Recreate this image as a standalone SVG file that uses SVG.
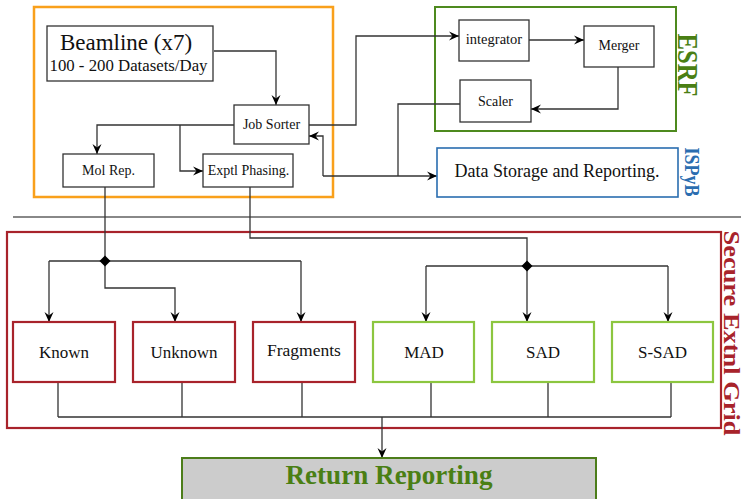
<svg xmlns="http://www.w3.org/2000/svg" width="746" height="499" viewBox="0 0 746 499">
<style>
  text { font-family: "Liberation Serif", "Times New Roman", serif; fill: #111; }
  .node rect { fill: #fff; stroke: #333; stroke-width: 1.3; }
  .red rect { stroke: #a8232b; stroke-width: 2.2; }
  .lg rect { stroke: #8cc63f; stroke-width: 2.2; }
  .s14 { font-size: 14px; }
  .s17 { font-size: 17px; }
  .conn path { fill: none; stroke: #333; stroke-width: 1.3; }
  .arr { marker-end: url(#stealth); }
  .lbl { font-weight: bold; }
</style>
<defs>
  <marker id="stealth" markerUnits="userSpaceOnUse" markerWidth="12" markerHeight="12" viewBox="-11 -6 12 12" refX="0" refY="0" orient="auto">
    <path d="M0,0 L-10,-4.5 L-6.5,0 L-10,4.5 Z" fill="#000"/>
  </marker>
</defs>
<rect width="746" height="499" fill="#fff"/>

<!-- containers -->
<g id="orange-group">
  <rect x="34" y="7" width="299" height="190" fill="none" stroke="#f9a01b" stroke-width="2.5"/>
</g>
<g id="esrf-group">
  <rect x="435" y="7" width="241" height="124" fill="none" stroke="#4e8a1e" stroke-width="2"/>
  <text class="lbl" transform="translate(678,65) rotate(90)" text-anchor="middle" font-size="30" textLength="63" lengthAdjust="spacingAndGlyphs" style="fill:#4a7f14">ESRF</text>
</g>
<g id="ispyb-group">
  <text class="lbl" transform="translate(685,172) rotate(90)" text-anchor="middle" font-size="20" textLength="49" lengthAdjust="spacingAndGlyphs" style="fill:#2a6db0">ISPyB</text>
</g>
<line x1="13" y1="217" x2="741" y2="217" stroke="#888" stroke-width="2"/>
<g id="grid-group">
  <rect x="7" y="232" width="714" height="196" fill="none" stroke="#a8232b" stroke-width="2.2"/>
  <text class="lbl" transform="translate(724,333) rotate(90)" text-anchor="middle" font-size="24" textLength="205" lengthAdjust="spacingAndGlyphs" style="fill:#a8232b">Secure Extnl Grid</text>
</g>

<!-- connectors -->
<g id="connectors" class="conn">
  <path class="arr" d="M214,51 H276 V105"/>
  <path class="arr" d="M234,125 H97 V154"/>
  <path class="arr" d="M180,125 V171 H203"/>
  <path class="arr" d="M309,125 H356 V36 H459"/>
  <path class="arr" d="M529,40 H584"/>
  <path class="arr" d="M618,67 V109 H531"/>
  <path d="M460,104 H398 V176"/>
  <path class="arr" d="M323,176 H437"/>
  <path class="arr" d="M323,176 V136 H309"/>
  <path d="M105,187 V261"/>
  <path d="M49,261 H301"/>
  <path class="arr" d="M49,261 V322"/>
  <path class="arr" d="M301,261 V322"/>
  <path class="arr" d="M105,261 V288 H175 V322"/>
  <path d="M250,187 V238 H527 V266"/>
  <path d="M426,266 H668"/>
  <path class="arr" d="M426,266 V322"/>
  <path class="arr" d="M527,266 V322"/>
  <path class="arr" d="M668,266 V322"/>
  <path d="M58,382 V417 M182,382 V417 M302,382 V417 M431,382 V417 M548,382 V417 M671,382 V417 M58,417 H671"/>
  <path class="arr" d="M382,417 V458"/>
  <polygon points="105,255.5 110.5,261 105,266.5 99.5,261" fill="#000"/>
  <polygon points="527,260.5 532.5,266 527,271.5 521.5,266" fill="#000"/>
</g>

<!-- nodes -->
<g id="beamline" class="node">
  <rect x="47" y="26" width="166" height="55"/>
  <text x="126" y="50" text-anchor="middle" font-size="23">Beamline (x7)</text>
  <text x="128.5" y="71" text-anchor="middle" font-size="16.8">100 - 200 Datasets/Day</text>
</g>
<g id="job-sorter" class="node">
  <rect x="234" y="105" width="75" height="39"/>
  <text class="s14" x="271.5" y="129" text-anchor="middle">Job Sorter</text>
</g>
<g id="mol-rep" class="node">
  <rect x="63" y="154" width="91" height="33"/>
  <text class="s14" x="108.5" y="175" text-anchor="middle">Mol Rep.</text>
</g>
<g id="exptl-phasing" class="node">
  <rect x="203" y="154" width="90" height="33"/>
  <text class="s14" x="248.5" y="175" text-anchor="middle">Exptl Phasing.</text>
</g>
<g id="integrator" class="node">
  <rect x="459" y="20" width="70" height="41"/>
  <text x="494" y="44" text-anchor="middle" font-size="14.5">integrator</text>
</g>
<g id="merger" class="node">
  <rect x="584" y="26" width="70" height="41"/>
  <text class="s14" x="619" y="50" text-anchor="middle">Merger</text>
</g>
<g id="scaler" class="node">
  <rect x="460" y="80" width="71" height="42"/>
  <text class="s14" x="495.5" y="106" text-anchor="middle">Scaler</text>
</g>
<g id="data-storage" class="node">
  <rect x="437" y="148" width="241" height="49" style="stroke:#2a6db0;stroke-width:1.6"/>
  <text x="557" y="177" text-anchor="middle" font-size="18">Data Storage and Reporting.</text>
</g>
<g id="known" class="node red">
  <rect x="13" y="322" width="102" height="60"/>
  <text class="s17" x="64" y="358" text-anchor="middle">Known</text>
</g>
<g id="unknown" class="node red">
  <rect x="133" y="322" width="102" height="60"/>
  <text class="s17" x="184" y="358" text-anchor="middle">Unknown</text>
</g>
<g id="fragments" class="node red">
  <rect x="253" y="322" width="102" height="60"/>
  <text x="304" y="356" text-anchor="middle" font-size="17.5">Fragments</text>
</g>
<g id="mad" class="node lg">
  <rect x="373" y="322" width="101" height="60"/>
  <text class="s17" x="424" y="358" text-anchor="middle">MAD</text>
</g>
<g id="sad" class="node lg">
  <rect x="492" y="322" width="102" height="60"/>
  <text class="s17" x="543" y="358" text-anchor="middle">SAD</text>
</g>
<g id="s-sad" class="node lg">
  <rect x="612" y="322" width="101" height="60"/>
  <text class="s17" x="662.5" y="358" text-anchor="middle">S-SAD</text>
</g>
<g id="return-reporting" class="node">
  <rect x="182" y="458" width="414" height="50" style="fill:#cccccc;stroke:#4c7d1a;stroke-width:2"/>
  <text x="389" y="484" text-anchor="middle" font-size="27" font-weight="bold" textLength="207" lengthAdjust="spacingAndGlyphs" style="fill:#4a7f14">Return Reporting</text>
</g>
</svg>
